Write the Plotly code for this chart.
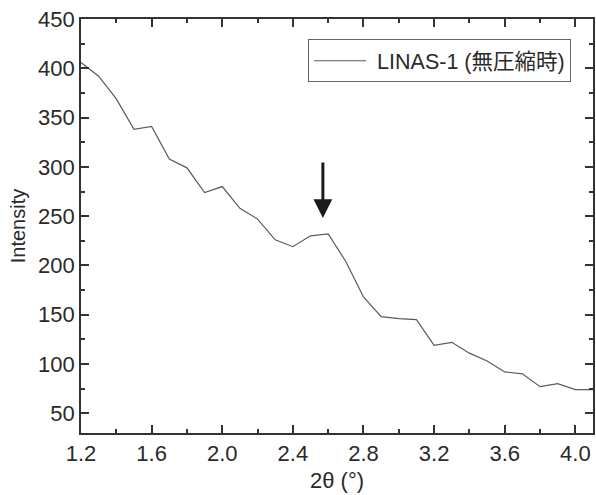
import plotly.graph_objects as go

two_theta = [1.2, 1.3, 1.4, 1.5, 1.6, 1.7, 1.8, 1.9, 2.0, 2.1,
             2.2, 2.3, 2.4, 2.5, 2.6, 2.7, 2.8, 2.9, 3.0, 3.1,
             3.2, 3.3, 3.4, 3.5, 3.6, 3.7, 3.8, 3.9, 4.0, 4.1]
intensity = [406, 392, 369, 338, 341, 308, 299, 274, 280, 258,
             247, 226, 219, 230, 232, 204, 168, 148, 146, 145,
             119, 122, 111, 103, 92, 90, 77, 80, 74, 74]
series_name = "LINAS-1 (無圧縮時)"
x_ticks = [1.2, 1.6, 2.0, 2.4, 2.8, 3.2, 3.6, 4.0]
y_ticks = [50, 100, 150, 200, 250, 300, 350, 400, 450]
arrow_x = 2.57
arrow_tip = 248
arrow_tail = 306

FONT = "Liberation Sans, Arial, Noto Sans CJK JP, sans-serif"
AX = "#333333"
TXT = "#2a2a2a"

fig = go.Figure()
fig.add_trace(go.Scatter(x=two_theta, y=intensity, mode="lines", name=" " + series_name,
                         line=dict(color="#5a5a5a", width=1.2)))

axis_common = dict(showline=True, linecolor=AX, linewidth=1.6, mirror="ticks",
                   ticks="inside", ticklen=8, tickwidth=1.5, tickcolor=AX,
                   showgrid=False, zeroline=False,
                   tickfont=dict(family=FONT, size=22, color=TXT))

fig.update_xaxes(range=[1.2, 4.1], tickvals=x_ticks, ticktext=[f"{v:.1f}" for v in x_ticks],
                 minor=dict(ticks="inside", ticklen=4, tickwidth=1.5, tickcolor=AX, dtick=0.2, tick0=1.2),
                 title=dict(text="2θ (°)", font=dict(family=FONT, size=22, color=TXT), standoff=7),
                 **axis_common)
fig.update_yaxes(range=[30, 450], tickvals=y_ticks,
                 minor=dict(ticks="inside", ticklen=4, tickwidth=1.5, tickcolor=AX, dtick=25, tick0=0),
                 title=dict(text="Intensity", font=dict(family=FONT, size=20, color=TXT), standoff=7),
                 **axis_common)

fig.add_annotation(x=arrow_x, y=arrow_tip, ax=arrow_x, ay=arrow_tail,
                   xref="x", yref="y", axref="x", ayref="y", text="",
                   showarrow=True, arrowhead=2, arrowwidth=3, arrowsize=1.25,
                   arrowcolor="#1a1a1a")

fig.update_layout(
    width=596, height=495,
    margin=dict(l=81, r=1, t=19, b=62),
    paper_bgcolor="white", plot_bgcolor="white",
    font=dict(family=FONT, color=TXT),
    showlegend=True,
    legend=dict(x=0.4436, y=0.951, xanchor="left", yanchor="top",
                bordercolor="#666666", borderwidth=1, bgcolor="white",
                font=dict(family=FONT, size=21.5, color=TXT),
                itemwidth=52),
)

fig.write_html("out.html")
